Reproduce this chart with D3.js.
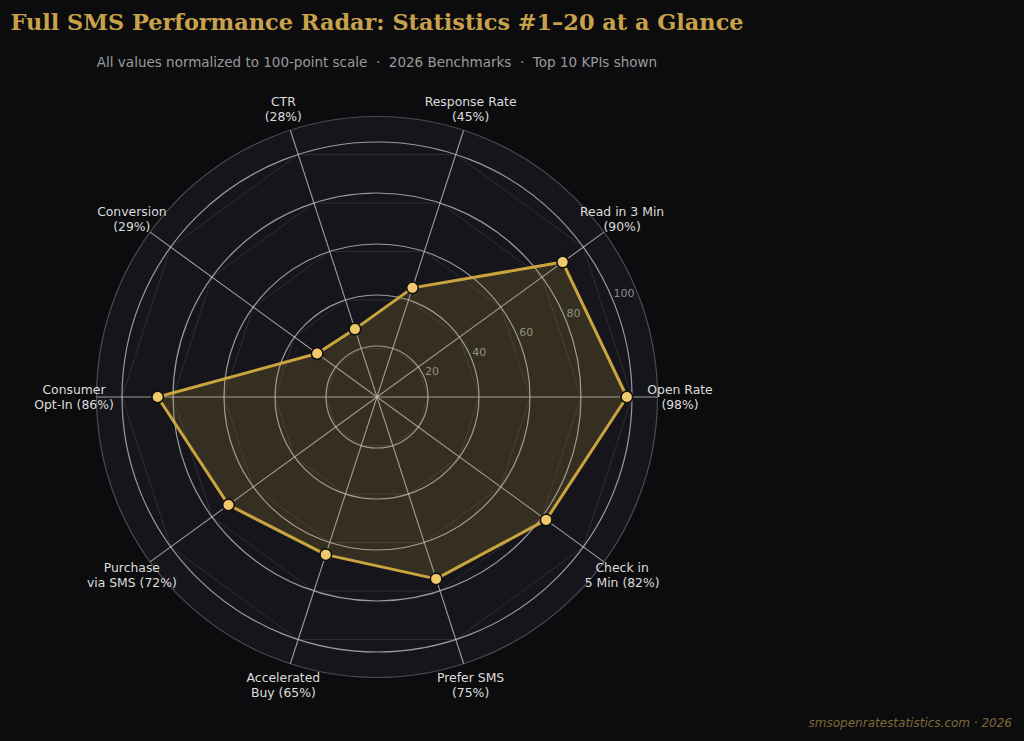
<!DOCTYPE html>
<html>
<head>
<meta charset="utf-8">
<script src="https://cdn.jsdelivr.net/npm/d3@7/dist/d3.min.js"></script>
<style>
  html, body { margin: 0; padding: 0; background: #0c0c0e; }
  svg { display: block; }
</style>
</head>
<body>
<svg id="chart" width="1024" height="741"></svg>
<script>
// ---- data ----
const categories = [
  ["Open Rate", "(98%)"],
  ["Read in 3 Min", "(90%)"],
  ["Response Rate", "(45%)"],
  ["CTR", "(28%)"],
  ["Conversion", "(29%)"],
  ["Consumer", "Opt-In (86%)"],
  ["Purchase", "via SMS (72%)"],
  ["Accelerated", "Buy (65%)"],
  ["Prefer SMS", "(75%)"],
  ["Check in", "5 Min (82%)"]
];
const values = [98, 90, 45, 28, 29, 86, 72, 65, 75, 82];
const radialTicks = [20, 40, 60, 80, 100];
const titleText = "Full SMS Performance Radar: Statistics #1\u201320 at a Glance";
const subtitleText = "All values normalized to 100-point scale  \u00b7  2026 Benchmarks  \u00b7  Top 10 KPIs shown";
const footerText = "smsopenratestatistics.com \u00b7 2026";

// ---- layout ----
const W = 1024, H = 741;
const cx = 377, cy = 397;
const svg = d3.select("#chart");
svg.append("rect").attr("width", W).attr("height", H).attr("fill", "#0c0c0e");

const r = d3.scaleLinear().domain([0, 110]).range([0, 280.5]);
const n = categories.length;
const angle = d3.scaleLinear().domain([0, n]).range([0, 2 * Math.PI]);
// matplotlib-style: theta CCW from east -> screen coords
const px = (i, v) => cx + r(v) * Math.cos(angle(i));
const py = (i, v) => cy - r(v) * Math.sin(angle(i));

const g = svg.append("g");

// background disc
g.append("circle").attr("cx", cx).attr("cy", cy).attr("r", r(110))
  .attr("fill", "#15151b").attr("stroke", "#4a4a52").attr("stroke-width", 1.2);

// faint polygon grid
radialTicks.forEach(t => {
  const pts = d3.range(n).map(i => [px(i, t), py(i, t)]);
  g.append("polygon").attr("points", pts.map(p => p.join(",")).join(" "))
    .attr("fill", "none").attr("stroke", "rgba(255,255,255,0.10)").attr("stroke-width", 1);
});

// grid circles
radialTicks.forEach(t => {
  g.append("circle").attr("cx", cx).attr("cy", cy).attr("r", r(t))
    .attr("fill", "none").attr("stroke", "rgba(205,205,210,0.72)").attr("stroke-width", 1.2);
});

// spokes
d3.range(n).forEach(i => {
  g.append("line").attr("x1", cx).attr("y1", cy)
    .attr("x2", px(i, 110)).attr("y2", py(i, 110))
    .attr("stroke", "rgba(200,200,205,0.75)").attr("stroke-width", 1.1);
});

// radial tick labels at 22.5deg
const ra = 22.5 * Math.PI / 180;
radialTicks.forEach(t => {
  g.append("text")
    .attr("x", cx + r(t) * Math.cos(ra) + 1)
    .attr("y", cy - r(t) * Math.sin(ra) - 2)
    .attr("font-family", "DejaVu Sans, sans-serif")
    .attr("font-size", 11).attr("fill", "#8c8c8c")
    .attr("text-anchor", "start")
    .text(t);
});

// data polygon
const line = d3.lineRadial()
  .angle((d, i) => Math.PI / 2 - angle(i))
  .radius(d => r(d))
  .curve(d3.curveLinearClosed);

const dataG = g.append("g").attr("transform", `translate(${cx},${cy})`);
dataG.append("path").attr("d", line(values))
  .attr("fill", "rgba(201,164,63,0.18)")
  .attr("stroke", "#c9a43f").attr("stroke-width", 3).attr("stroke-linejoin", "round");

// points
g.selectAll("circle.pt").data(values).enter().append("circle")
  .attr("class", "pt")
  .attr("cx", (d, i) => px(i, d)).attr("cy", (d, i) => py(i, d))
  .attr("r", 5.8).attr("fill", "#f0c96a")
  .attr("stroke", "#111").attr("stroke-width", 1.6);

// category labels
const labR = 303;
categories.forEach((lines, i) => {
  const x = cx + labR * Math.cos(angle(i));
  const y = cy - labR * Math.sin(angle(i));
  const t = g.append("text")
    .attr("font-family", "DejaVu Sans, sans-serif")
    .attr("font-size", 12.4).attr("fill", "#dcdcdc")
    .attr("text-anchor", "middle");
  lines.forEach((s, k) => {
    t.append("tspan").attr("x", x)
      .attr("y", y + (k - (lines.length - 1) / 2) * 14.8 + 4.4)
      .text(s);
  });
});

// title, subtitle, footer
svg.append("text").attr("x", cx).attr("y", 29.5)
  .attr("text-anchor", "middle")
  .attr("font-family", "DejaVu Serif, serif").attr("font-weight", "bold")
  .attr("font-size", 22.4).attr("fill", "#c8a24a")
  .text(titleText);

svg.append("text").attr("x", cx).attr("y", 66.5)
  .attr("text-anchor", "middle")
  .attr("font-family", "DejaVu Sans, sans-serif")
  .attr("font-size", 13.5).attr("fill", "#9a9a9a")
  .attr("xml:space", "preserve")
  .style("white-space", "pre")
  .text(subtitleText);

svg.append("text").attr("x", 1012).attr("y", 727)
  .attr("text-anchor", "end")
  .attr("font-family", "DejaVu Sans, sans-serif").attr("font-style", "italic")
  .attr("font-size", 12).attr("fill", "#7e6a36")
  .text(footerText);
</script>
</body>
</html>
